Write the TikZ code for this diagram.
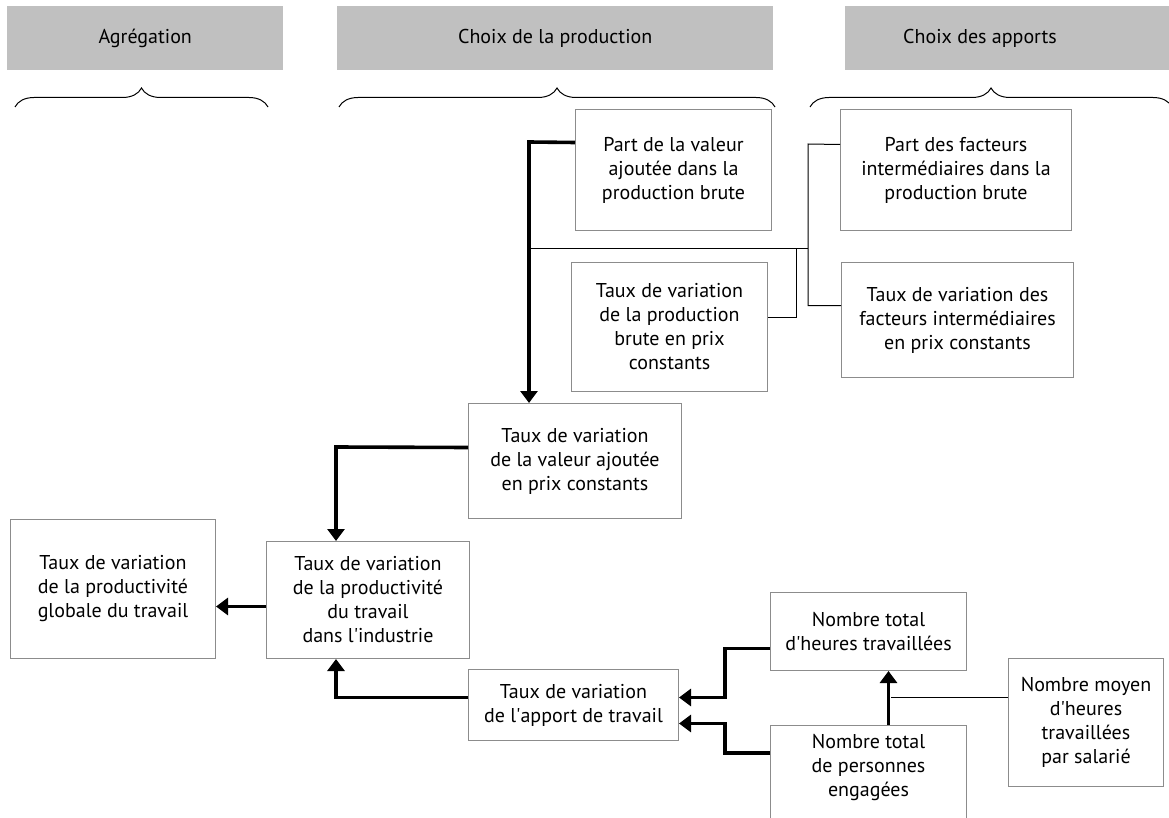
\documentclass[tikz,border=0pt]{standalone}
\usepackage{fontspec}
\setmainfont{PT Sans}
\usetikzlibrary{arrows.meta,decorations.pathreplacing}
\definecolor{hdr}{HTML}{C0C0C0}
\definecolor{bord}{HTML}{8C8C8C}
\newcommand\apos{\textquotesingle}
\tikzset{
  txt/.style={font=\fontsize{20}{24}\selectfont},
  box/.style={txt,draw=bord,line width=1pt,fill=white,align=center,anchor=north west,inner sep=0pt},
  hdrbox/.style={txt,fill=hdr,anchor=north west,inner sep=0pt},
  thinln/.style={line width=1pt},
  thickarr/.style={line width=3.6pt,-{Triangle[width=17pt,length=12pt]}},
  bracestyle/.style={decorate,decoration={brace,amplitude=19pt},line width=1pt}
}
\begin{document}
\begin{tikzpicture}[x=1pt,y=-1pt]
\useasboundingbox (0,0) rectangle (1169,818);
\clip (0,0) rectangle (1169,818);
\fill[white] (0,0) rectangle (1169,818);
% headers
\node[hdrbox,minimum width=276,minimum height=64] (h1) at (7,6) {Agrégation};
\node[hdrbox,minimum width=436,minimum height=64] (h2) at (337,6) {Choix de la production};
\node[hdrbox,minimum width=330,minimum height=64] (h3) at (845,6) {};
\node[txt] (h3t) at (980,38) {Choix des apports};
% braces
\draw[bracestyle] (15,107) -- (268,107);
\draw[bracestyle] (339,107) -- (775,107);
\draw[bracestyle] (810,107) -- (1172,107);
% boxes
\node[box,minimum width=196,minimum height=121] (pv) at (575,109) {Part de la valeur\\ ajoutée dans la\\ production brute};
\node[box,minimum width=231,minimum height=121] (pf) at (840,109) {Part des facteurs\\intermédiaires dans la\\production brute};
\node[box,minimum width=196,minimum height=129] (tpb) at (571,262) {Taux de variation\\de la production\\brute en prix\\constants};
\node[box,minimum width=232,minimum height=115] (tfi) at (841,262) {Taux de variation des\\facteurs intermédiaires\\en prix constants};
\node[box,minimum width=213,minimum height=115] (tva) at (468,403) {Taux de variation\\de la valeur ajoutée\\en prix constants};
\node[box,minimum width=203,minimum height=117] (tpi) at (266,541) {Taux de variation\\de la productivité\\du travail\\dans l\apos industrie};
\node[box,minimum width=205,minimum height=139] (tpg) at (10,519) {Taux de variation\\de la productivité\\globale du travail};
\node[box,minimum width=210,minimum height=71] (tat) at (468,669) {Taux de variation\\de l\apos apport de travail};
\node[box,minimum width=196,minimum height=78] (nth) at (770,592) {Nombre total\\d\apos heures travaillées};
\node[box,minimum width=196,minimum height=120] (ntp) at (770,725) {Nombre total\\de personnes\\engagées\\[16pt]};
\node[box,minimum width=155,minimum height=128] (nmh) at (1008,658) {Nombre moyen\\d\apos heures\\travaillées\\par salarié};
% helper coordinates
\coordinate (c529) at (529,142);
\coordinate (j249) at (529,249);
\coordinate (k249) at (808,249);
\coordinate (c808) at (808,144);
\coordinate (c796) at (796,249);
\coordinate (c336) at (336,447);
\coordinate (c725) at (725,0);
\coordinate (pfw) at ([yshift=25.5]pf.west);
\coordinate (tfiw) at ([yshift=14.5]tfi.west);
\coordinate (tpbe) at ([yshift=9.5]tpb.east);
\coordinate (nmhw) at ([yshift=25]nmh.west);
\coordinate (c890) at ([xshift=22]ntp.north);
\coordinate (pvw) at ([yshift=27.5]pv.west);
\coordinate (tvaw) at ([yshift=13.5]tva.west);
\coordinate (tpiw) at ([yshift=-6.5]tpi.west);
\coordinate (tatw) at ([yshift=7.5]tat.west);
\coordinate (tate1) at ([yshift=7.5]tat.east);
\coordinate (tate2) at ([yshift=-18.5]tat.east);
\coordinate (nthw) at ([yshift=-17]nth.west);
\coordinate (ntpw) at ([yshift=-28]ntp.north west);
\coordinate (ntpn) at ([xshift=20]ntp.north);
% thin connectors
\draw[thinln] (j249) -- (k249);
\draw[thinln] (pfw) -- (c808) -- (c808 |- tfiw) -- (tfiw);
\draw[thinln] (tpbe) -- (c796 |- tpbe) -- (c796);
\draw[thinln] (nmhw) -- (nmhw -| c890);
% thick connectors
\draw[thickarr] (pvw) -- (c529) -- (c529 |- tva.north);
\draw[thickarr] (tvaw) -- (c336) -- (c336 |- tpi.north);
\draw[thickarr] (tpiw) -- (tpiw -| tpg.east);
\draw[thickarr] (tatw) -- (tatw -| c336) -- (c336 |- tpi.south);
\draw[thickarr] (nthw) -- (nthw -| c725) -- (tate1 -| c725) -- (tate1);
\draw[thickarr] (ntpw) -- (ntpw -| c725) -- (tate2 -| c725) -- (tate2);
\draw[thickarr] (ntpn) -- (ntpn |- nth.south);
\end{tikzpicture}
\end{document}
